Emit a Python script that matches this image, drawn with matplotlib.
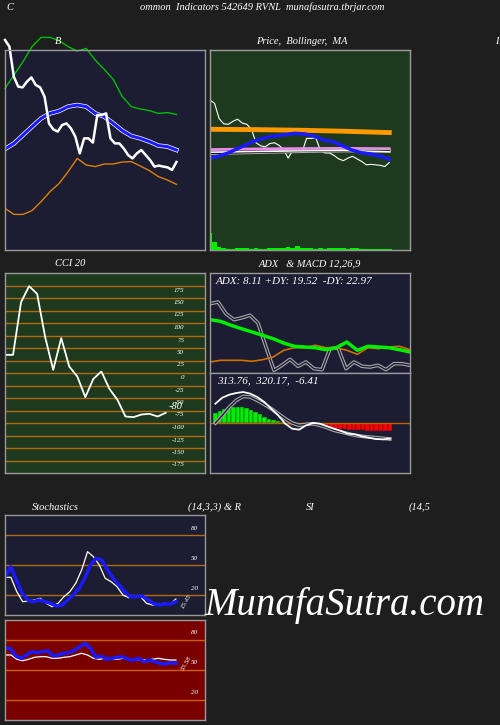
import numpy as np
import matplotlib
matplotlib.use("Agg")
import matplotlib.pyplot as plt

# ---------------- data ----------------
price = [105,101.7,86.7,81.7,81.3,84.2,86.3,82.5,81.3,76.7,63.3,60.3,59.2,62.5,63.3,60.8,56.7,48.3,55.8,55.8,
         53.7,67.5,67.5,68.3,55.8,53.3,53.3,50.8,47.5,45.8,48.3,50,47.5,45,41.7,42.2,41.7,41.3,40,44]
bb_upper = [80.8,87.5,94.2,101.7,106.3,106.3,104.7,101.7,99.5,100.8,95,90.3,85.3,76.7,71.7,70.5,69.7,68.3,68.7,67.8]
bb_mid = [50.5,53.3,57.5,61.7,65.8,68.3,69.5,71.7,72.5,71.7,68.3,66.7,63.3,59.7,57,55.8,54.2,52.2,51.7,50]
bb_lower = [20.8,17.8,17.8,19.7,24.2,29.2,33.3,39.2,45.8,42.5,41.7,43,43,44,44.2,42,39.7,36.7,35,32.8]

ma_blue = [48.1,50.4,53.6,57.9,62.1,66,68.6,69.9,71.2,72.5,71.85,69.9,66,64.4,60.5,56.3,53.6,52.3,50.4,47.2]
ma_orange = [76.4,76.1,75.5,74.5,73.2]
ma_pink = [56.6,57.2,57.6,57.8,57.5]
ma_black = [52.9,53.9,54.9,55.5,55.2]
ma_white = [54.0,54.6,55.3,55.8,54.5]
volume = [50,25,8,5,4,4,5,6,5,4,5,4,4,5,6,6,5,8,6,12,7,5,5,4,5,4,6,5,5,5,4,5,5,4,4,4,3,3,3,3]

cci = [36.3,36.3,141.7,173.7,158.3,71.7,6.3,69.7,13,-7,-48.3,-11.7,3,-31.7,-53.7,-87,-88.3,-83,-81.7,-87,-79.7]
cci_levels = [175,150,125,100,75,50,25,0,-25,-50,-75,-100,-125,-150,-175]

adx_green = [53.3,51.7,47.7,44.3,41,37.7,34.3,30,26.7,26,25.3,23.3,25.3,31,22.7,26.7,26,25.3,23.3,21]
adx_orange = [11,12.7,12.7,12.7,11.7,13.3,16,22.7,25.3,25.3,27.7,25.3,25.3,22.7,18.7,25.3,24.3,26,26.7,23.3]
adx_gray = [69.3,71,59.3,53.3,55.3,57.7,50,26,2.7,7.7,13.7,6.7,11,4.3,3.3,24.3,25.3,4.3,11,6.7,6,7.7,3.3,9.3,9.3,7.7]

macd_hist = [30,36,42,45,47,48,47,46,40,33,26,18,13,10,6,2,-6,-7,-6,-5,-3,-2,-8,-10,-12,-14,-16,-17,-18,-19,
             -20,-21,-22,-22,-23,-23,-24,-24,-24,-24]
macd_line = [58,76,85,90,93,88,78,63,43,23,-2,-17,-20,-7,0,-2,-10,-17,-24,-32,-34,-40,-44,-48,-49,-47]
macd_signal = [0,23,48,68,80,78,68,56,43,28,13,0,-7,-4,-2,-7,-14,-22,-27,-32,-37,-40,-42,-44,-46,-48]

stoch_d = [38.3,48.3,35,21.7,15,13.3,15,13.3,11.7,9,10,15,20,26.7,36.7,50,56.7,55,45,36.7,30,23.3,18.3,18.3,19,15.7,11.7,10,11,11,13.3]
stoch_k = [37.7,37.7,23.3,13.3,14,15,16.7,11.7,8.3,11.7,18.3,23.3,31.7,45,63.3,58.3,50,36.7,33.3,28.3,20,17.3,19.3,18.3,11.7,10,10.7,11.7,10.7,16]
rsi_blue = [71.7,71.7,64,61.7,65,68.3,67.3,68.3,69.3,64,65,66.7,67.3,70,73.3,76.7,71.7,62.7,64,60.7,61.7,62.7,63.3,60.7,60,61.7,58.3,60,58.3,56.7,56,57.3,56.7]
rsi_white = [65,65,60.7,59.3,60.7,62.7,63.3,63.3,61.7,61.7,62.7,63.3,65,66.7,65,61.7,60.7,61.7,60.7,60.7,61.7,60.7,60,60.7,60,60.7,61.7,60.7,60,60]
osc_levels = [80, 50, 20]

# ---------------- figure ----------------
W, H = 500, 725
fig = plt.figure(figsize=(5, 7.25), dpi=100, facecolor="#1e1e1e")
SERIF = dict(family="Liberation Serif", style="italic", color="white")

def ax_px(x0, y0, x1, y1, bg):
    a = fig.add_axes([x0 / W, 1 - y1 / H, (x1 - x0) / W, (y1 - y0) / H], facecolor=bg)
    a.set_xticks([]); a.set_yticks([])
    for s in a.spines.values():
        s.set_color("#999999"); s.set_linewidth(1)
    return a

def txt(x, y, s, size=7.5, **kw):
    fig.text(x / W, 1 - y / H, s, fontsize=size, ha="center", va="center", **SERIF, **kw)

txt(10, 7, "C"); txt(262, 7, "ommon  Indicators 542649 RVNL  munafasutra.tbrjar.com")
txt(58, 42, "B"); txt(302, 42, "Price,  Bollinger,  MA"); txt(497, 42, "I")
txt(70, 264, "CCI 20"); txt(310, 264, "ADX   & MACD 12,26,9")
txt(55, 507, "Stochastics"); txt(215, 507, "(14,3,3) & R"); txt(310, 507, "SI"); txt(420, 507, "(14,5")
txt(345, 605, "MunafaSutra.com", size=28)

# Panel 1 Bollinger
a1 = ax_px(5, 50, 205, 250, "#1c1c33")
n1 = len(price)
xs_bb = np.linspace(0, n1 - 1, len(bb_upper))
a1.plot(xs_bb, bb_upper, color="#00c000", lw=1, clip_on=False)
a1.plot(xs_bb, bb_mid, color="white", lw=3.2)
a1.plot(xs_bb, bb_mid, color="#1a1aff", lw=2.2)
a1.plot(xs_bb, bb_lower, color="#e08000", lw=1)
a1.plot(range(n1), price, color="white", lw=1.8, clip_on=False)
a1.set_xlim(0, n1 - 1 + 6.5); a1.set_ylim(0, 100)

# Panel 2 Price MA
a2 = ax_px(210, 50, 410, 250, "#1e3a1e")
a2.plot(range(n1), price, color="white", lw=0.8)
xs_ma = np.linspace(0, n1 - 1, len(ma_orange))
a2.plot(xs_ma, ma_orange, color="#ff9900", lw=3.5)
a2.plot(xs_ma, ma_pink, color="#ee88ee", lw=2)
a2.plot(xs_ma, ma_black, color="#aaaaaa", lw=2.5)
a2.plot(xs_ma, ma_black, color="black", lw=1)
a2.plot(xs_ma, ma_white, color="white", lw=1)
a2.plot(np.linspace(0, n1 - 1, len(ma_blue)), ma_blue, color="#1a1aff", lw=2.5)
a2.set_xlim(0, n1 - 1 + 4.5); a2.set_ylim(-41.4, 153.8)
a2v = a2.twinx(); a2v.set_yticks([])
a2v.bar(range(n1), volume, width=1.0, color="#00ee00")
a2v.set_ylim(0, 600)
for s in a2v.spines.values(): s.set_color("#999999")

# CCI
a3 = ax_px(5, 273, 205, 473, "#1e3a1e")
for lv in cci_levels:
    a3.axhline(lv, color="#b06a10", lw=1)
    a3.text(22.3, lv - 9, str(lv), fontsize=5, ha="right", va="center", **SERIF)
a3.plot(range(len(cci)), cci, color="white", lw=1.3)
a3.text(20.4, cci[-1] + 12, "-80", fontsize=7.5, ha="left", va="center", **SERIF)
a3.set_xlim(0, 24.9); a3.set_ylim(-200, 200)

# ADX
a4 = ax_px(210, 273, 410, 373, "#1c1c33")
xg = np.linspace(0, 1, len(adx_green))
a4.plot(np.linspace(0, 1, len(adx_gray)), adx_gray, color="#aaaaaa", lw=2.6)
a4.plot(np.linspace(0, 1, len(adx_gray)), adx_gray, color="#1c1c33", lw=1.0)
a4.plot(xg, adx_orange, color="#d07000", lw=1.2)
a4.plot(xg, adx_green, color="#00ee00", lw=2.5)
a4.set_xlim(0, 1); a4.set_ylim(0, 100)
a4.text(0.03, 91, "ADX: 8.11 +DY: 19.52  -DY: 22.97", fontsize=8, ha="left", va="center", **SERIF)

# MACD
a5 = ax_px(210, 373, 410, 473, "#1c1c33")
nh = len(macd_hist)
cols = ["#00ee00" if v >= 0 else "#ff0000" for v in macd_hist]
a5.bar(range(nh), macd_hist, width=1.0, color=cols, edgecolor="#1c1c33", lw=0.3)
a5.axhline(0, color="#c06000", lw=1)
xm = np.linspace(0, nh - 1, len(macd_line))
a5.plot(xm, macd_signal, color="#aaaaaa", lw=2.6)
a5.plot(xm, macd_signal, color="#1c1c33", lw=1.0)
a5.plot(xm, macd_line, color="white", lw=1.3)
a5.set_xlim(-1.2, 43.5); a5.set_ylim(-150, 150)
a5.text(0.3, 128, "313.76,  320.17,  -6.41", fontsize=8, ha="left", va="center", **SERIF)

# Stochastics
a6 = ax_px(5, 515, 205, 615, "#1c1c33")
for lv in osc_levels:
    a6.axhline(lv, color="#b06a10", lw=1)
    a6.text(0.965, lv + 7, str(lv), fontsize=5, ha="right", va="center", transform=a6.get_yaxis_transform(), **SERIF)
xs = np.linspace(0, 1, len(stoch_d))
a6.plot(np.linspace(0, 1, len(stoch_k)), stoch_k, color="white", lw=0.9)
a6.plot(xs, stoch_d, color="#1a1aff", lw=2.5)
a6.text(1.06, 14, "15.45", fontsize=5, rotation=60, ha="center", va="center", **SERIF)
a6.set_xlim(-0.0, 1.17); a6.set_ylim(0, 100)

# RSI
a7 = ax_px(5, 620, 205, 720, "#7a0000")
for lv in osc_levels:
    a7.axhline(lv, color="#d06000", lw=1)
    a7.text(0.965, lv + 7, str(lv), fontsize=5, ha="right", va="center", transform=a7.get_yaxis_transform(), **SERIF)
a7.plot(np.linspace(0, 1, len(rsi_white)), rsi_white, color="white", lw=0.9)
a7.plot(np.linspace(0, 1, len(rsi_blue)), rsi_blue, color="#1a1aff", lw=2.5)
a7.text(1.06, 57, "53.58", fontsize=5, rotation=60, ha="center", va="center", **SERIF)
a7.set_xlim(-0.0, 1.17); a7.set_ylim(0, 100)

fig.savefig("out.png", dpi=100, facecolor=fig.get_facecolor())
